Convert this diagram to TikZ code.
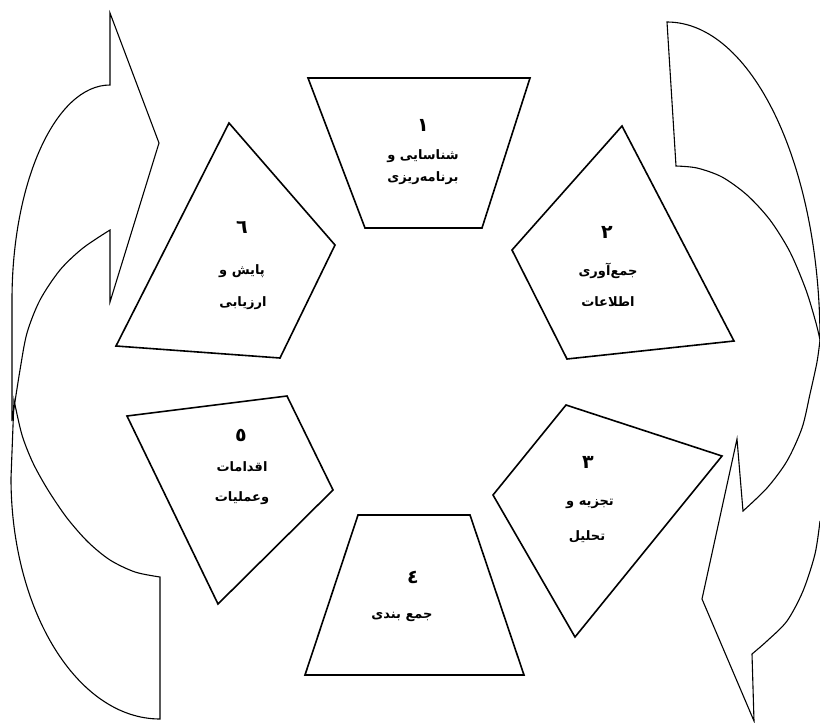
\documentclass[tikz,border=0pt]{standalone}
\usepackage{fontspec}
\TeXXeTstate=1
\newfontfamily\arabicfont[Script=Arabic]{DejaVu Sans}
\begin{document}
\begin{tikzpicture}[x=1pt,y=-1pt,
  box/.style={draw=black, line width=1.6pt, line join=miter},
  arr/.style={draw=black, line width=1.1pt, line join=miter},
  lbl/.style={font=\arabicfont\bfseries\fontsize{13}{15}\selectfont, inner sep=0pt, anchor=center},
  num/.style={font=\arabicfont\bfseries\fontsize{19}{21}\selectfont, inner sep=0pt, anchor=center}]
\useasboundingbox (0,0) rectangle (820,723);
\fill[white] (0,0) rectangle (820,723);

% left arrows
\draw[arr] (110,13) -- (159,143) -- (110,302) -- (110,230)
  -- plot[smooth] coordinates {(110,230) (83,248) (60,270) (40,300) (27,333) (20,370) (12,421)}
  -- (12,300) arc[start angle=180, end angle=270, x radius=98, y radius=215] -- cycle;
\draw[arr] plot[smooth] coordinates {(14,400) (22,435) (33,463) (48,490) (67,518) (88,542) (110,560) (135,572) (160,577)}
  -- (160,719) -- (160,719) arc[start angle=90, end angle=180, x radius=149, y radius=241] -- cycle;

% right arrows
\draw[arr] (676,166) -- (667,22) arc[start angle=270, end angle=360, x radius=153, y radius=318]
  -- plot[smooth] coordinates {(820,340) (816,323) (806,290) (790,252) (770,220) (747,195) (722,177) (697,168) (676,166)} -- cycle;
\draw[arr] plot[smooth] coordinates {(820,340) (817,362) (810,394) (802,428) (787,461) (767,488) (743,511)}
  -- (737,439) -- (702,599) -- (754,721) -- (752,654)
  -- plot[smooth] coordinates {(752,654) (767,641) (787,621) (803,591) (815,554) (820,521)};

% boxes
\draw[box] (308,78) -- (530,78) -- (482,228) -- (365,228) -- cycle;
\draw[box] (622,126) -- (734,341) -- (567,359) -- (512,250) -- cycle;
\draw[box] (566,405) -- (722,456) -- (575,637) -- (493,495) -- cycle;
\draw[box] (358,515) -- (470,515) -- (524,675) -- (305,675) -- cycle;
\draw[box] (127,416) -- (287,396) -- (333,490) -- (218,604) -- cycle;
\draw[box] (229,123) -- (335,245) -- (280,358) -- (116,346) -- cycle;

% labels
\node[num] (n1) at (423,125) {\beginR ١\endR};
\node[lbl] (t1a) at (423,156) {\beginR شناسایی و\endR};
\node[lbl] (t1b) at (423,178) {\beginR برنامه‌ریزی\endR};

\node[num] (n2) at (607,232) {\beginR ٢\endR};
\node[lbl] (t2a) at (608,271) {\beginR جمع‌آوری\endR};
\node[lbl] (t2b) at (608,302) {\beginR اطلاعات\endR};

\node[num] (n3) at (588,462) {\beginR ٣\endR};
\node[lbl] (t3a) at (590,504) {\beginR تجزیه و\endR};
\node[lbl] (t3b) at (587,537) {\beginR تحلیل\endR};

\node[num] (n4) at (413,577) {\beginR ٤\endR};
\node[lbl] (t4a) at (402,617) {\beginR جمع بندی\endR};

\node[num] (n5) at (241,435) {\beginR ٥\endR};
\node[lbl] (t5a) at (242,467) {\beginR اقدامات\endR};
\node[lbl] (t5b) at (242,498) {\beginR وعملیات\endR};

\node[num] (n6) at (242,227) {\beginR ٦\endR};
\node[lbl] (t6a) at (242,271) {\beginR پایش و\endR};
\node[lbl] (t6b) at (243,303) {\beginR ارزیابی\endR};
\end{tikzpicture}
\end{document}
